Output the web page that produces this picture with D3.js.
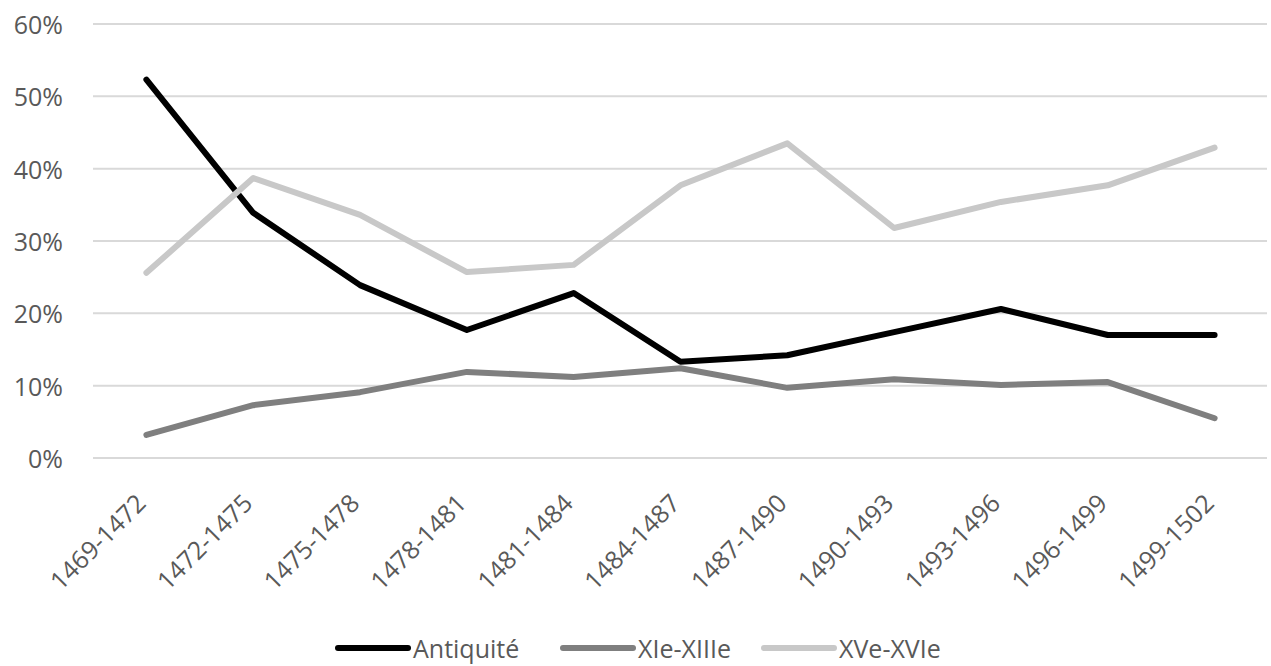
<!DOCTYPE html>
<html>
<head>
<meta charset="utf-8">
<script src="https://cdn.jsdelivr.net/npm/d3@7"></script>
<style>
  html, body { margin: 0; padding: 0; background: #ffffff; }
  svg { display: block; }
  text { font-family: "Open Sans", "DejaVu Sans", sans-serif; fill: #595959; }
</style>
</head>
<body>
<svg id="chart" width="1271" height="666"></svg>
<script>
const categories = ["1469-1472","1472-1475","1475-1478","1478-1481","1481-1484","1484-1487","1487-1490","1490-1493","1493-1496","1496-1499","1499-1502"];
const antiquite = [0.523, 0.339, 0.239, 0.177, 0.228, 0.133, 0.142, 0.174, 0.206, 0.170, 0.170];
const xieXiiie  = [0.032, 0.073, 0.091, 0.119, 0.112, 0.124, 0.097, 0.109, 0.101, 0.105, 0.055];
const xveXvie   = [0.256, 0.387, 0.336, 0.257, 0.267, 0.377, 0.435, 0.318, 0.354, 0.377, 0.429];
const seriesNames = ["Antiquité", "XIe-XIIIe", "XVe-XVIe"];
const yTicks = [0, 0.1, 0.2, 0.3, 0.4, 0.5, 0.6];

const series = [
  { name: seriesNames[0], values: antiquite, color: "#000000" },
  { name: seriesNames[1], values: xieXiiie,  color: "#7f7f7f" },
  { name: seriesNames[2], values: xveXvie,   color: "#c8c8c8" }
];

const svg = d3.select("#chart");
const plotLeft = 93, plotRight = 1268, plotTop = 24, plotBottom = 458;

const x = d3.scalePoint().domain(categories).range([plotLeft, plotRight]).padding(0.5);
const y = d3.scaleLinear().domain([0, 0.6]).range([plotBottom, plotTop]);

// gridlines
svg.append("g").selectAll("line").data(yTicks).join("line")
  .attr("x1", plotLeft).attr("x2", plotRight - 1)
  .attr("y1", d => y(d)).attr("y2", d => y(d))
  .attr("stroke", "#d9d9d9").attr("stroke-width", 2);

// y labels
const fmt = d3.format(".0%");
svg.append("g").selectAll("text").data(yTicks).join("text")
  .attr("x", 63).attr("y", d => y(d))
  .attr("text-anchor", "end").attr("dominant-baseline", "central")
  .attr("font-size", 25)
  .text(d => fmt(d));

// x labels
svg.append("g").selectAll("text").data(categories).join("text")
  .attr("transform", d => `translate(${x(d) + 1},${plotBottom + 47}) rotate(-45)`)
  .attr("text-anchor", "end")
  .attr("font-size", 25)
  .text(d => d);

// lines
const line = d3.line().x((d, i) => x(categories[i])).y(d => y(d));
svg.append("g").selectAll("path").data(series).join("path")
  .attr("d", d => line(d.values))
  .attr("fill", "none")
  .attr("stroke", d => d.color)
  .attr("stroke-width", 6)
  .attr("stroke-linejoin", "round")
  .attr("stroke-linecap", "round");

// legend
const legendX = [338, 563, 764];
const lg = svg.append("g").selectAll("g").data(series).join("g")
  .attr("transform", (d, i) => `translate(${legendX[i]},648)`);
lg.append("line").attr("x1", 0).attr("x2", 70).attr("y1", 0).attr("y2", 0)
  .attr("stroke", d => d.color).attr("stroke-width", 6).attr("stroke-linecap", "round");
lg.append("text").attr("x", 75).attr("y", 0)
  .attr("dominant-baseline", "central").attr("font-size", 25)
  .text(d => d.name);
</script>
</body>
</html>
